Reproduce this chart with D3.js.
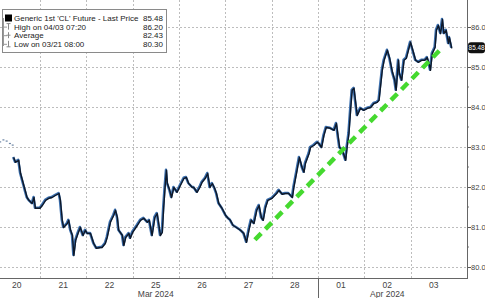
<!DOCTYPE html>
<html>
<head>
<meta charset="utf-8">
<script src="https://cdn.jsdelivr.net/npm/d3@7"></script>
<style>
body { margin: 0; background: #fff; }
text { font-family: "Liberation Sans", Arial, sans-serif; }
</style>
</head>
<body>
<div id="chart"></div>
<script>
// sessions (x labels), one band per trading day
var dayLabels = ["20", "21", "22", "25", "26", "27", "28", "01", "02", "03"];
var monthLabels = [{ label: "Mar 2024", at: 3.5 }, { label: "Apr 2024", at: 8.5 }];
var monthBreaks = [7];
var yTicks = [80, 81, 82, 83, 84, 85, 86];
var yMinor = [80.5, 81.5, 82.5, 83.5, 84.5, 85.5];

// sparse pre-open ticks on day 20
var preT = [0.14, 0.21, 0.28, 0.35, 0.41];
var preP = [83.13, 83.18, 83.15, 83.09, 83.05];

// price trace: t = fractional session index, p = price
var priceT = [0.42, 0.46, 0.53, 0.57, 0.61, 0.64, 0.68, 0.71, 0.75, 0.82, 0.86, 0.89,
  0.99, 1.04, 1.11, 1.18, 1.25, 1.32, 1.40, 1.43, 1.47, 1.50, 1.58, 1.61, 1.65, 1.69, 1.72, 1.76, 1.81, 1.86, 1.92, 1.97,
  2.01, 2.08, 2.15, 2.21, 2.30, 2.33, 2.40, 2.44, 2.51, 2.58, 2.62, 2.66, 2.69, 2.77, 2.80, 2.84, 2.91, 2.94, 2.99,
  3.09, 3.16, 3.23, 3.31, 3.35, 3.41, 3.47, 3.52, 3.59, 3.63, 3.66, 3.69, 3.72, 3.74, 3.79, 3.83, 3.88, 3.95,
  4.02, 4.10, 4.15, 4.20, 4.28, 4.31, 4.38, 4.44, 4.49, 4.56, 4.61, 4.66, 4.71, 4.76, 4.80, 4.85, 4.92,
  5.00, 5.05, 5.10, 5.16, 5.23, 5.32, 5.39, 5.45, 5.50, 5.55, 5.61, 5.67, 5.72, 5.77, 5.81, 5.86, 5.91,
  6.00, 6.10, 6.15, 6.22, 6.29, 6.36, 6.44, 6.47, 6.54, 6.59, 6.65, 6.69, 6.72, 6.80, 6.83, 6.90, 6.98,
  7.01, 7.07, 7.12, 7.17, 7.26, 7.34, 7.39, 7.43, 7.46, 7.52, 7.59, 7.62, 7.66, 7.70, 7.73, 7.77, 7.80, 7.84, 7.91, 7.98,
  8.06, 8.13, 8.20, 8.27, 8.31, 8.34, 8.38, 8.42, 8.49, 8.54, 8.60, 8.65, 8.68, 8.73, 8.75, 8.80, 8.85, 8.90, 8.96, 8.99,
  9.04, 9.10, 9.16, 9.23, 9.30, 9.35, 9.40, 9.42, 9.46, 9.52, 9.55, 9.59, 9.64, 9.68, 9.71, 9.76, 9.81, 9.83, 9.88];
var priceP = [82.75, 82.63, 82.68, 82.35, 82.18, 82.05, 81.88, 81.75, 81.68, 81.60, 81.75, 81.48,
  81.48, 81.55, 81.68, 81.73, 81.75, 81.80, 81.85, 81.68, 81.18, 81.00, 81.10, 81.18, 80.93, 80.80, 80.30, 80.68, 80.85, 81.00, 80.80, 80.93,
  80.85, 80.85, 80.60, 80.48, 80.50, 80.50, 80.60, 80.75, 81.13, 81.30, 81.43, 81.25, 80.93, 80.80, 80.55, 80.75, 80.85, 80.73, 80.88,
  81.05, 81.18, 81.23, 81.13, 81.18, 80.80, 81.25, 81.35, 80.80, 80.88, 81.50, 82.00, 82.43, 82.10, 81.93, 81.75, 82.00, 81.88,
  82.05, 82.23, 82.25, 82.10, 82.00, 82.00, 81.88, 82.00, 82.13, 82.23, 82.35, 82.00, 82.10, 81.98, 81.85, 81.60, 81.48,
  81.30, 81.23, 81.18, 81.05, 81.00, 80.93, 80.85, 80.63, 80.93, 81.18, 81.10, 81.43, 81.55, 81.25, 81.18, 81.50, 81.68,
  81.73, 81.85, 81.93, 81.83, 81.85, 81.85, 81.75, 82.00, 82.43, 82.75, 82.50, 82.38, 82.60, 82.85, 83.00, 83.05, 83.13,
  83.10, 83.00, 83.30, 83.50, 83.48, 83.43, 83.60, 83.25, 83.00, 82.93, 82.68, 83.00, 83.35, 84.00, 84.43, 84.48, 84.18, 83.80, 83.98, 83.93,
  83.98, 84.00, 84.10, 84.13, 84.18, 84.50, 84.93, 85.18, 85.43, 85.23, 84.88, 84.68, 84.43, 85.18, 84.85, 84.68, 85.18, 85.23, 85.50, 85.63,
  85.43, 85.18, 85.13, 85.18, 85.18, 85.25, 85.05, 84.93, 85.35, 85.50, 85.93, 86.05, 85.85, 86.20, 85.85, 85.93, 85.60, 85.75, 85.48];

// hand drawn green trend line
var trendT = [5.64, 9.70];
var trendP = [80.68, 85.50];

var legendRows = [
  { sym: "square", label: "Generic 1st 'CL' Future - Last Price", value: "85.48" },
  { sym: "high", label: "High on 04/03 07:20", value: "86.20" },
  { sym: "avg", label: "Average", value: "82.43" },
  { sym: "low", label: "Low on 03/21 08:00", value: "80.30" }
];
var lastPrice = 85.48;

var W = 485, H = 298;
var svg = d3.select("#chart").append("svg").attr("width", W).attr("height", H);

var axisX = 467, axisY = 278;
var x = d3.scaleLinear().domain([0, 10.22]).range([-6.3, axisX]);
var y = d3.scaleLinear().domain([80, 86]).range([267, 27]);

// gridlines
svg.append("g").selectAll("line").data(d3.range(1, 10)).enter().append("line")
  .attr("x1", function(d) { return Math.round(x(d)) + 0.5; }).attr("x2", function(d) { return Math.round(x(d)) + 0.5; })
  .attr("y1", 0).attr("y2", axisY)
  .attr("stroke", "#bdbdbd").attr("stroke-width", 1).attr("stroke-dasharray", "2,2");
svg.append("g").selectAll("line").data(yTicks).enter().append("line")
  .attr("x1", 0).attr("x2", axisX)
  .attr("y1", function(d) { return Math.round(y(d)) + 0.5; }).attr("y2", function(d) { return Math.round(y(d)) + 0.5; })
  .attr("stroke", "#bdbdbd").attr("stroke-width", 1).attr("stroke-dasharray", "2,2");

// axes
var yAxis = d3.axisRight(y).tickValues(yTicks).tickSize(4).tickFormat(d3.format(".1f"));
var gy = svg.append("g").attr("transform", "translate(" + axisX + ",0)").call(yAxis);
gy.select(".domain").remove();
gy.selectAll("line").attr("stroke", "#555");
gy.selectAll("text").attr("x", 4).attr("fill", "#444").style("font-size", "7.5px");
svg.append("g").attr("transform", "translate(" + axisX + ",0)")
  .selectAll("line").data(yMinor).enter().append("line")
  .attr("x1", 0).attr("x2", 2)
  .attr("y1", function(d) { return y(d); }).attr("y2", function(d) { return y(d); })
  .attr("stroke", "#777");

svg.append("line").attr("x1", axisX + 0.5).attr("x2", axisX + 0.5).attr("y1", 0).attr("y2", axisY)
  .attr("stroke", "#666");
svg.append("line").attr("x1", 0).attr("x2", axisX + 1).attr("y1", axisY + 0.5).attr("y2", axisY + 0.5)
  .attr("stroke", "#666");

svg.append("g").selectAll("text").data(dayLabels).enter().append("text")
  .attr("x", function(d, i) { return x(i + 0.5); }).attr("y", 288)
  .attr("text-anchor", "middle").attr("fill", "#444").style("font-size", "8.5px")
  .text(function(d) { return d; });
svg.append("g").selectAll("text").data(monthLabels).enter().append("text")
  .attr("x", function(d) { return x(d.at); }).attr("y", 297)
  .attr("text-anchor", "middle").attr("fill", "#444").style("font-size", "8.5px")
  .text(function(d) { return d.label; });
svg.append("g").selectAll("line").data(monthBreaks).enter().append("line")
  .attr("x1", function(d) { return Math.round(x(d)) + 0.5; }).attr("x2", function(d) { return Math.round(x(d)) + 0.5; })
  .attr("y1", axisY).attr("y2", H).attr("stroke", "#666");

// price
var pts = priceT.map(function(t, i) { return [t, priceP[i]]; });
var line = d3.line().x(function(d) { return x(d[0]); }).y(function(d) { return y(d[1]); });
svg.append("path").datum(pts).attr("d", line)
  .attr("fill", "none").attr("stroke", "#3b6fae").attr("stroke-width", 2.5).attr("stroke-linejoin", "round");
svg.append("path").datum(pts).attr("d", line).attr("transform", "translate(0.5,0.5)")
  .attr("fill", "none").attr("stroke", "#0e1828").attr("stroke-width", 1.4).attr("stroke-linejoin", "round");

svg.append("g").selectAll("rect").data(preT).enter().append("rect")
  .attr("x", function(d) { return x(d) - 1; }).attr("y", function(d, i) { return y(preP[i]) - 0.5; })
  .attr("width", 2).attr("height", 1.2).attr("fill", "#6d86a6");

// trend line
var tr = trendT.map(function(t, i) { return [t, trendP[i]]; });
svg.append("path").datum(tr).attr("d", line)
  .attr("stroke", "#45d92f").attr("stroke-width", 4.5).attr("stroke-dasharray", "9,6").attr("fill", "none");

// last price tag
var lp = svg.append("g").attr("transform", "translate(468," + y(lastPrice) + ")");
lp.append("rect").attr("x", 0).attr("y", -5.5).attr("width", 17).attr("height", 11).attr("rx", 3)
  .attr("fill", "#111");
lp.append("text").attr("x", 0.6).attr("y", 2.4).attr("fill", "#fff").style("font-size", "6.4px")
  .text(d3.format(".2f")(lastPrice));

// legend
var lg = svg.append("g");
lg.append("rect").attr("x", 2.5).attr("y", 9.5).attr("width", 164).attr("height", 43)
  .attr("fill", "#fff").attr("stroke", "#8a8a8a");
lg.append("line").attr("x1", 3.5).attr("x2", 3.5).attr("y1", 18).attr("y2", 46).attr("stroke", "#999");
var rows = lg.selectAll("g.row").data(legendRows).enter().append("g")
  .attr("transform", function(d, i) { return "translate(0," + (21 + i * 8.6) + ")"; });
rows.each(function(d) {
  var g = d3.select(this);
  if (d.sym == "square") {
    g.append("rect").attr("x", 5).attr("y", -6.5).attr("width", 7).attr("height", 7).attr("fill", "#000");
  } else {
    g.append("line").attr("x1", 3.5).attr("x2", 7).attr("y1", -2.5).attr("y2", -2.5).attr("stroke", "#999");
    g.append("line").attr("x1", 8.5).attr("x2", 8.5).attr("y1", -6).attr("y2", 0).attr("stroke", "#888");
    var cy = d.sym == "high" ? -6 : (d.sym == "low" ? 0 : -3);
    g.append("line").attr("x1", 6.5).attr("x2", 10.5).attr("y1", cy).attr("y2", cy).attr("stroke", "#888");
  }
  g.append("text").attr("x", 14).attr("y", 0).attr("fill", "#222").style("font-size", "8px").text(d.label);
  g.append("text").attr("x", 163).attr("y", 0).attr("text-anchor", "end").attr("fill", "#222")
    .style("font-size", "8px").text(d.value);
});
</script>
</body>
</html>
